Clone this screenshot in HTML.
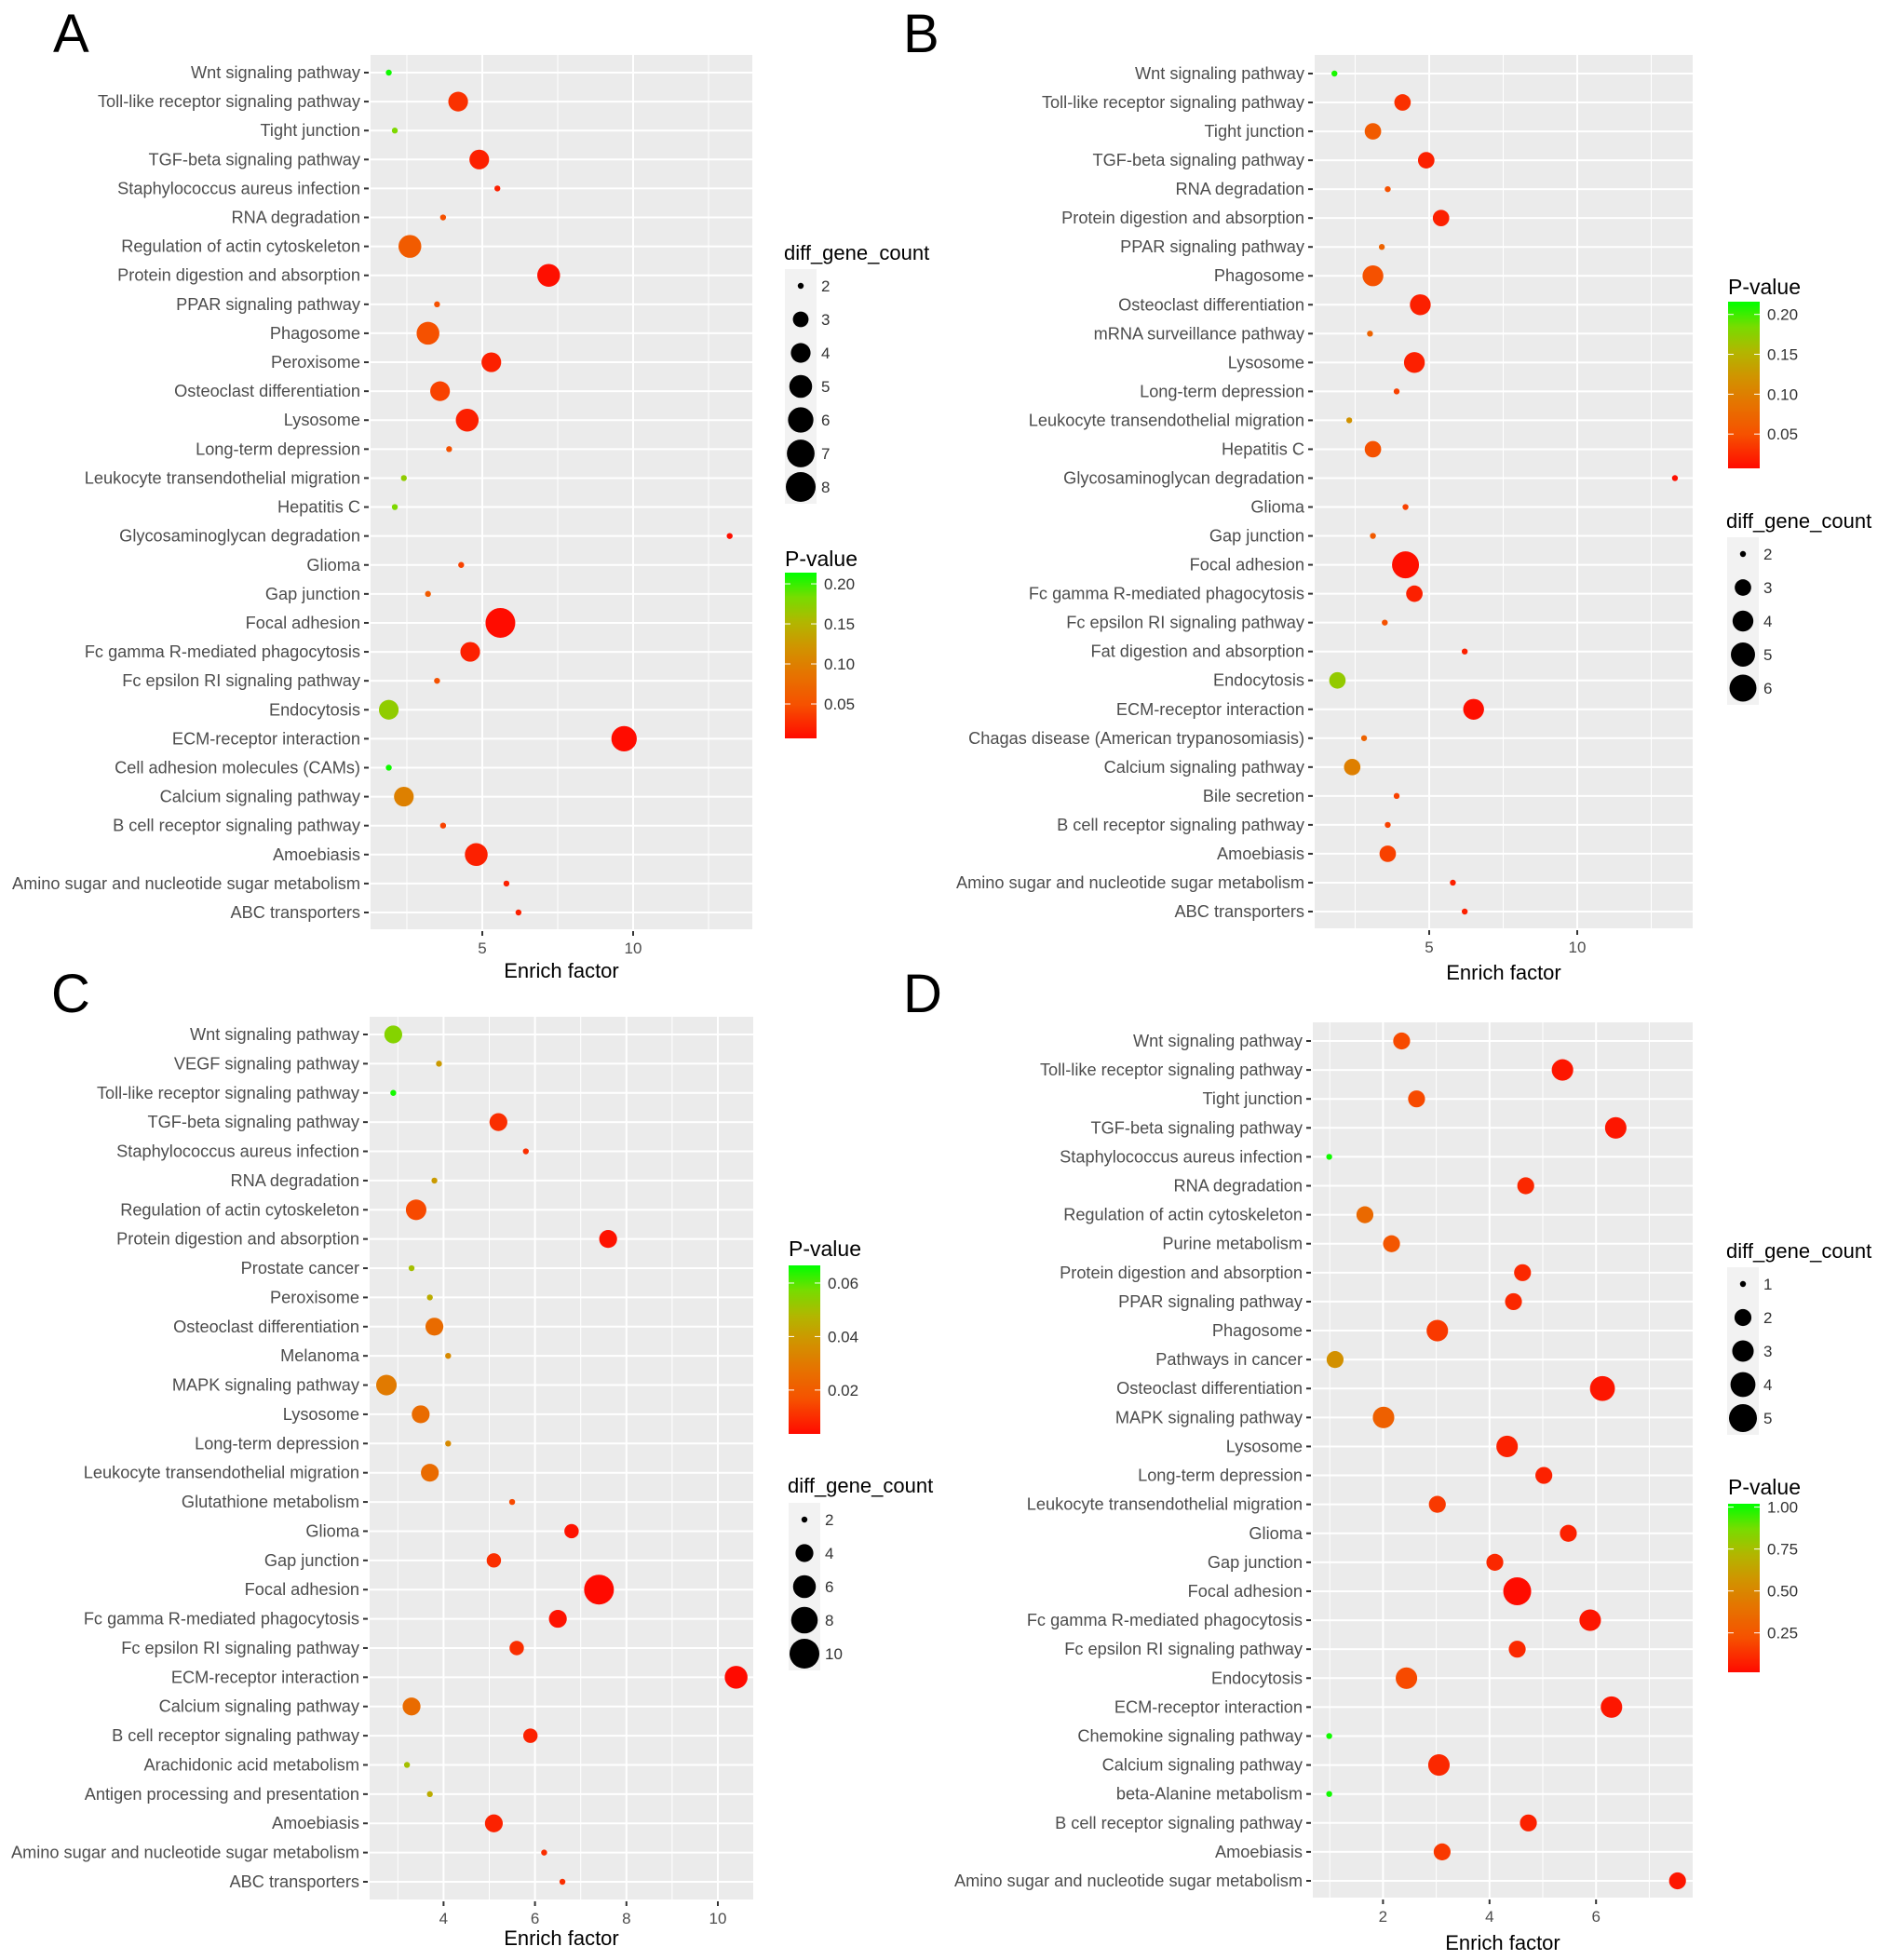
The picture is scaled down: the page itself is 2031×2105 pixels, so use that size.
<!DOCTYPE html>
<html><head><meta charset="utf-8">
<style>
html,body{margin:0;padding:0;background:#fff;}
svg{display:block;font-family:"Liberation Sans",Arial,sans-serif;}
</style></head>
<body>
<svg id="fig" width="2031" height="2105" viewBox="0 0 2031 2105" xmlns="http://www.w3.org/2000/svg">
<rect width="2031" height="2105" fill="#fff"/>
</svg>
<script>
// ---------- Panel A data ----------
const catsA = ["Wnt signaling pathway","Toll-like receptor signaling pathway","Tight junction","TGF-beta signaling pathway","Staphylococcus aureus infection","RNA degradation","Regulation of actin cytoskeleton","Protein digestion and absorption","PPAR signaling pathway","Phagosome","Peroxisome","Osteoclast differentiation","Lysosome","Long-term depression","Leukocyte transendothelial migration","Hepatitis C","Glycosaminoglycan degradation","Glioma","Gap junction","Focal adhesion","Fc gamma R-mediated phagocytosis","Fc epsilon RI signaling pathway","Endocytosis","ECM-receptor interaction","Cell adhesion molecules (CAMs)","Calcium signaling pathway","B cell receptor signaling pathway","Amoebiasis","Amino sugar and nucleotide sugar metabolism","ABC transporters"];
const xA = [1.9,4.2,2.1,4.9,5.5,3.7,2.6,7.2,3.5,3.2,5.3,3.6,4.5,3.9,2.4,2.1,13.2,4.3,3.2,5.6,4.6,3.5,1.9,9.7,1.9,2.4,3.7,4.8,5.8,6.2];
const countA = [2,4,2,4,2,2,5,5,2,5,4,4,5,2,2,2,2,2,2,8,4,2,4,6,2,4,2,5,2,2];
const pA = [0.21,0.03,0.18,0.02,0.02,0.05,0.06,0.01,0.05,0.05,0.02,0.04,0.02,0.05,0.17,0.18,0.01,0.04,0.06,0.008,0.02,0.05,0.17,0.008,0.21,0.10,0.04,0.02,0.02,0.02];
const xTicksA = [5,10];
const sizeTicksA = [2,3,4,5,6,7,8];
const pTicksA = [0.20,0.15,0.10,0.05];

// ---------- Panel B data ----------
const catsB = ["Wnt signaling pathway","Toll-like receptor signaling pathway","Tight junction","TGF-beta signaling pathway","RNA degradation","Protein digestion and absorption","PPAR signaling pathway","Phagosome","Osteoclast differentiation","mRNA surveillance pathway","Lysosome","Long-term depression","Leukocyte transendothelial migration","Hepatitis C","Glycosaminoglycan degradation","Glioma","Gap junction","Focal adhesion","Fc gamma R-mediated phagocytosis","Fc epsilon RI signaling pathway","Fat digestion and absorption","Endocytosis","ECM-receptor interaction","Chagas disease (American trypanosomiasis)","Calcium signaling pathway","Bile secretion","B cell receptor signaling pathway","Amoebiasis","Amino sugar and nucleotide sugar metabolism","ABC transporters"];
const xB = [1.8,4.1,3.1,4.9,3.6,5.4,3.4,3.1,4.7,3.0,4.5,3.9,2.3,3.1,13.3,4.2,3.1,4.2,4.5,3.5,6.2,1.9,6.5,2.8,2.4,3.9,3.6,3.6,5.8,6.2];
const countB = [2,3,3,3,2,3,2,4,4,2,4,2,2,3,2,2,2,6,3,2,2,3,4,2,3,2,2,3,2,2];
const pB = [0.21,0.03,0.06,0.02,0.05,0.02,0.07,0.05,0.02,0.07,0.02,0.04,0.12,0.05,0.01,0.04,0.06,0.01,0.02,0.05,0.02,0.17,0.01,0.07,0.10,0.04,0.04,0.04,0.02,0.02];
const xTicksB = [5,10];
const sizeTicksB = [2,3,4,5,6];
const pTicksB = [0.20,0.15,0.10,0.05];

// ---------- Panel C data ----------
const catsC = ["Wnt signaling pathway","VEGF signaling pathway","Toll-like receptor signaling pathway","TGF-beta signaling pathway","Staphylococcus aureus infection","RNA degradation","Regulation of actin cytoskeleton","Protein digestion and absorption","Prostate cancer","Peroxisome","Osteoclast differentiation","Melanoma","MAPK signaling pathway","Lysosome","Long-term depression","Leukocyte transendothelial migration","Glutathione metabolism","Glioma","Gap junction","Focal adhesion","Fc gamma R-mediated phagocytosis","Fc epsilon RI signaling pathway","ECM-receptor interaction","Calcium signaling pathway","B cell receptor signaling pathway","Arachidonic acid metabolism","Antigen processing and presentation","Amoebiasis","Amino sugar and nucleotide sugar metabolism","ABC transporters"];
const xC = [2.9,3.9,2.9,5.2,5.8,3.8,3.4,7.6,3.3,3.7,3.8,4.1,2.75,3.5,4.1,3.7,5.5,6.8,5.1,7.4,6.5,5.6,10.4,3.3,5.9,3.2,3.7,5.1,6.2,6.6];
const countC = [4,2,2,4,2,2,5,4,2,2,4,2,5,4,2,4,2,3,3,10,4,3,6,4,3,2,2,4,2,2];
const pC = [0.055,0.04,0.065,0.01,0.01,0.04,0.015,0.005,0.05,0.045,0.025,0.035,0.03,0.025,0.035,0.025,0.015,0.005,0.01,0.003,0.005,0.01,0.002,0.025,0.008,0.05,0.045,0.008,0.01,0.01];
const xTicksC = [4,6,8,10];
const sizeTicksC = [2,4,6,8,10];
const pTicksC = [0.06,0.04,0.02];

// ---------- Panel D data ----------
const catsD = ["Wnt signaling pathway","Toll-like receptor signaling pathway","Tight junction","TGF-beta signaling pathway","Staphylococcus aureus infection","RNA degradation","Regulation of actin cytoskeleton","Purine metabolism","Protein digestion and absorption","PPAR signaling pathway","Phagosome","Pathways in cancer","Osteoclast differentiation","MAPK signaling pathway","Lysosome","Long-term depression","Leukocyte transendothelial migration","Glioma","Gap junction","Focal adhesion","Fc gamma R-mediated phagocytosis","Fc epsilon RI signaling pathway","Endocytosis","ECM-receptor interaction","Chemokine signaling pathway","Calcium signaling pathway","beta-Alanine metabolism","B cell receptor signaling pathway","Amoebiasis","Amino sugar and nucleotide sugar metabolism"];
const xD = [2.35,5.37,2.63,6.37,0.99,4.68,1.66,2.16,4.62,4.45,3.02,1.1,6.12,2.01,4.33,5.02,3.02,5.48,4.1,4.52,5.89,4.52,2.44,6.29,0.99,3.05,0.99,4.73,3.11,7.53];
const countD = [2,3,2,3,1,2,2,2,2,2,3,2,4,3,3,2,2,2,2,5,3,2,3,3,1,3,1,2,2,2];
const pD = [0.2,0.05,0.2,0.05,1.0,0.1,0.35,0.25,0.1,0.1,0.15,0.55,0.05,0.3,0.08,0.08,0.15,0.08,0.1,0.02,0.05,0.1,0.2,0.05,1.0,0.1,1.0,0.08,0.15,0.05];
const xTicksD = [2,4,6];
const sizeTicksD = [1,2,3,4,5];
const pTicksD = [1.00,0.75,0.50,0.25];

const NS = "http://www.w3.org/2000/svg";
const svg = document.getElementById('fig');
function mk(tag, attrs, parent){
  const e = document.createElementNS(NS, tag);
  for (const k in attrs) e.setAttribute(k, attrs[k]);
  (parent||svg).appendChild(e);
  return e;
}
const stops = [[0,[255,10,0]],[0.2,[246,80,0]],[0.4,[228,118,0]],[0.55,[208,148,0]],[0.7,[178,182,0]],[0.85,[120,220,0]],[1,[0,255,0]]];
function pcol(t){
  t = Math.max(0, Math.min(1, t));
  for (let i=1;i<stops.length;i++){
    if (t <= stops[i][0]){
      const a = stops[i-1], b = stops[i];
      const f = (t-a[0])/(b[0]-a[0]);
      const c = a[1].map((v,j)=>Math.round(v+(b[1][j]-v)*f));
      return `rgb(${c[0]},${c[1]},${c[2]})`;
    }
  }
  return 'rgb(0,255,0)';
}

function panel(cfg){
  const g = mk('g', {});
  
  
  const L = cfg.left, R = cfg.right, T = cfg.top, B = cfg.bottom;
  const xs = v => cfg.x0 + v*cfg.unit;
  const n = cfg.cats.length;
  const ys = i => cfg.yFirst + i*(cfg.yLast-cfg.yFirst)/(n-1);
  const letter = mk('text', {x:cfg.letterX, y:cfg.letterY, 'font-size':58, fill:'#000'}, g);
  
  
  letter.textContent = cfg.id;
  const bg = mk('rect', {x:L, y:T, width:R-L, height:B-T, fill:'#ebebeb'}, g);
  
  
  cfg.minor.forEach(v => {
    const ln = mk('line', {x1:xs(v), x2:xs(v), y1:T, y2:B, stroke:'#fff', 'stroke-width':1}, g);
    
    
  });
  cfg.xticks.forEach(v => {
    const ln = mk('line', {x1:xs(v), x2:xs(v), y1:T, y2:B, stroke:'#fff', 'stroke-width':2}, g);
    
    
    const tk = mk('line', {x1:xs(v), x2:xs(v), y1:B+2, y2:B+7, stroke:'#333', 'stroke-width':2}, g);
    
    
    const tl = mk('text', {x:xs(v), y:B+26, 'font-size':17, fill:'#4d4d4d', 'text-anchor':'middle'}, g);
    
    
    tl.textContent = v;
  });
  cfg.cats.forEach((c,i) => {
    const y = ys(i);
    const ln = mk('line', {x1:L, x2:R, y1:y, y2:y, stroke:'#fff', 'stroke-width':2}, g);
    
    
    const tk = mk('line', {x1:L-7, x2:L-2, y1:y, y2:y, stroke:'#333', 'stroke-width':2}, g);
    
    
    const tl = mk('text', {x:L-11, y:y+6, 'font-size':18.2, fill:'#4d4d4d', 'text-anchor':'end'}, g);
    
    
    tl.textContent = c;
  });
  const rad = cnt => cfg.rmin + (cfg.rmax-cfg.rmin)*Math.sqrt((cnt-cfg.smin)/(cfg.smax-cfg.smin));
  const pt = p => (p-cfg.pmin)/(cfg.pmax-cfg.pmin);
  cfg.cats.forEach((c,i) => {
    const d = mk('circle', {cx:xs(cfg.xv[i]), cy:ys(i), r:rad(cfg.cnt[i]), fill:pcol(pt(cfg.pv[i]))}, g);
    
    
  });
  const at = mk('text', {x:(L+R)/2, y:cfg.titleY, 'font-size':22, fill:'#000', 'text-anchor':'middle'}, g);
  
  
  at.textContent = 'Enrich factor';
  const sl = cfg.sizeLeg;
  const st = mk('text', {x:sl.x, y:sl.titleY, 'font-size':22, fill:'#000'}, g);
  
  
  st.textContent = 'diff_gene_count';
  cfg.sizeTicks.forEach((v,i) => {
    const y = sl.y0 + i*sl.dy;
    const kb = mk('rect', {x:sl.x+1, y:y-sl.dy/2, width:34, height:sl.dy, fill:'#f2f2f2'}, g);
    
    
    const kc = mk('circle', {cx:sl.x+18, cy:y, r:rad(v), fill:'#000'}, g);
    
    
    const kt = mk('text', {x:sl.x+40, y:y+6, 'font-size':17, fill:'#333'}, g);
    
    
    kt.textContent = v;
  });
  const cl = cfg.colLeg;
  const ct = mk('text', {x:cl.x, y:cl.titleY, 'font-size':23, fill:'#000'}, g);
  
  
  ct.textContent = 'P-value';
  const gid = 'grad' + cfg.id;
  const defs = mk('defs', {}, g);
  const lg = mk('linearGradient', {id:gid, x1:0, y1:1, x2:0, y2:0}, defs);
  for (let k=0;k<=20;k++){ mk('stop', {offset:k/20, 'stop-color':pcol(k/20)}, lg); }
  const bar = mk('rect', {x:cl.x, y:cl.top, width:34, height:cl.bottom-cl.top, fill:`url(#${gid})`}, g);
  
  
  const py = p => cl.bottom - (p-cfg.pmin)/(cfg.pmax-cfg.pmin)*(cl.bottom-cl.top);
  cfg.pTicks.forEach(v => {
    const y = py(v);
    mk('line', {x1:cl.x, x2:cl.x+6, y1:y, y2:y, stroke:'#fff', 'stroke-width':1}, g);
    mk('line', {x1:cl.x+28, x2:cl.x+34, y1:y, y2:y, stroke:'#fff', 'stroke-width':1}, g);
    const lt = mk('text', {x:cl.x+42, y:y+6, 'font-size':17, fill:'#333'}, g);
    
    
    lt.textContent = v.toFixed(2);
  });
}

panel({id:'A', cats:catsA, xv:xA, cnt:countA, pv:pA, xticks:xTicksA, minor:[2.5,7.5,12.5], sizeTicks:sizeTicksA, pTicks:pTicksA,
  left:398, right:808, top:59, bottom:998, x0:356, unit:32.4, yFirst:78, yLast:980, titleY:1050, letterX:57, letterY:56,
  rmin:3.2, rmax:16, smin:2, smax:8, pmin:0.007, pmax:0.214,
  sizeLeg:{x:842, titleY:279, y0:307, dy:36}, colLeg:{x:843, titleY:608, top:615, bottom:793}});
panel({id:'B', cats:catsB, xv:xB, cnt:countB, pv:pB, xticks:xTicksB, minor:[2.5,7.5,12.5], sizeTicks:sizeTicksB, pTicks:pTicksB,
  left:1412, right:1818, top:59, bottom:997, x0:1376, unit:31.8, yFirst:79, yLast:979, titleY:1052, letterX:970, letterY:56,
  rmin:3.2, rmax:14.5, smin:2, smax:6, pmin:0.007, pmax:0.216,
  sizeLeg:{x:1854, titleY:567, y0:595, dy:36}, colLeg:{x:1856, titleY:316, top:324, bottom:503}});
panel({id:'C', cats:catsC, xv:xC, cnt:countC, pv:pC, xticks:xTicksC, minor:[3,5,7,9], sizeTicks:sizeTicksC, pTicks:pTicksC,
  left:397, right:809, top:1092, bottom:2040, x0:280, unit:49.1, yFirst:1111, yLast:2021, titleY:2089, letterX:55, letterY:1087,
  rmin:3.2, rmax:16, smin:2, smax:10, pmin:0.0036, pmax:0.0666,
  sizeLeg:{x:846, titleY:1603, y0:1632, dy:36}, colLeg:{x:847, titleY:1349, top:1359, bottom:1540}});
panel({id:'D', cats:catsD, xv:xD, cnt:countD, pv:pD, xticks:xTicksD, minor:[1,3,5,7], sizeTicks:sizeTicksD, pTicks:pTicksD,
  left:1410, right:1818, top:1098, bottom:2038, x0:1371, unit:57.2, yFirst:1118, yLast:2020, titleY:2094, letterX:970, letterY:1087,
  rmin:3.2, rmax:15, smin:1, smax:5, pmin:0.015, pmax:1.02,
  sizeLeg:{x:1854, titleY:1351, y0:1379, dy:36}, colLeg:{x:1856, titleY:1605, top:1615, bottom:1796}});
</script>
</body></html>
